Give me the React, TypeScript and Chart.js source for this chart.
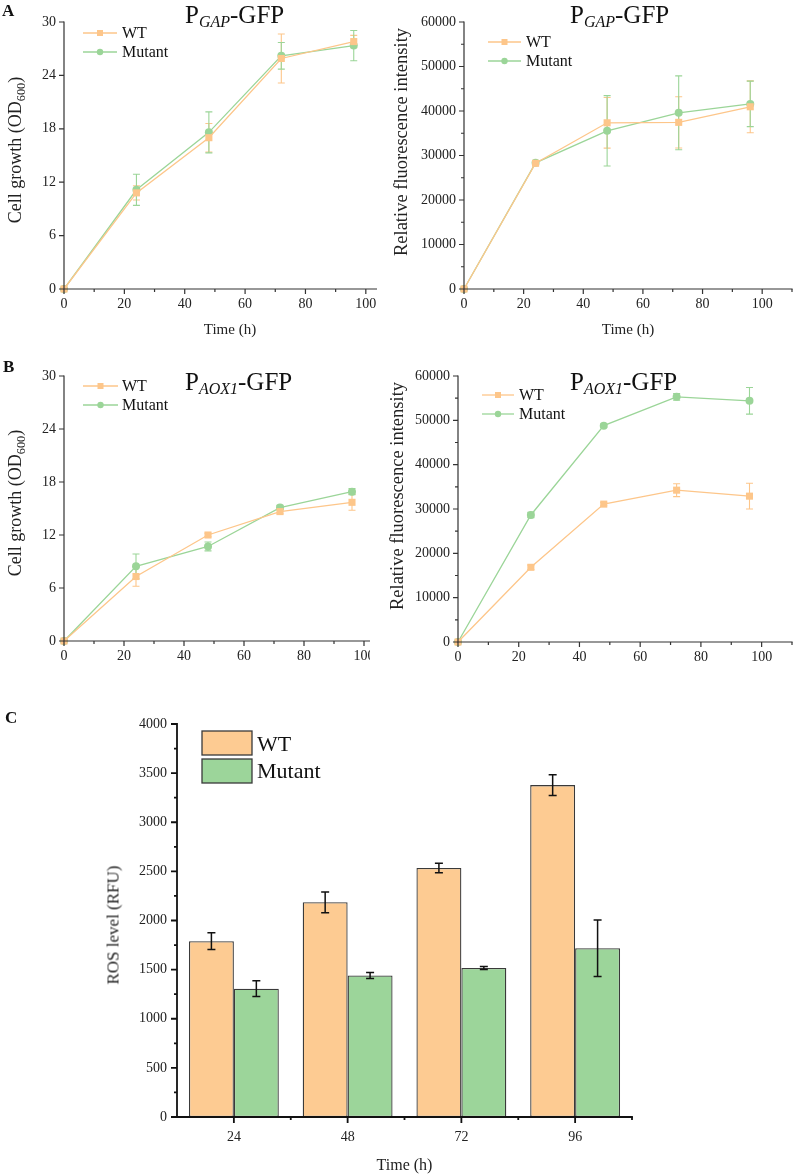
import React, { useEffect, useRef } from 'react';
import { Chart, registerables } from 'chart.js';

Chart.register(...registerables);

const SERIF = "'Liberation Serif', 'Times New Roman', serif";

// ---------------- data ----------------
const hours = [0, 24, 48, 72, 96];
const seriesNames = ['WT', 'Mutant'];

const gapOdWt = [0, 10.8, 17.0, 25.9, 27.8];
const gapOdWtErr = [0, 0.8, 1.6, 2.75, 0.7];
const gapOdMut = [0, 11.15, 17.6, 26.2, 27.35];
const gapOdMutErr = [0, 1.75, 2.3, 1.5, 1.7];

const gapFlWt = [0, 28250, 37350, 37450, 40950];
const gapFlWtErr = [0, 500, 5700, 5750, 5830];
const gapFlMut = [0, 28350, 35550, 39600, 41600];
const gapFlMutErr = [0, 400, 7900, 8300, 5120];

const aoxOdWt = [0, 7.3, 12.0, 14.65, 15.7];
const aoxOdWtErr = [0, 1.1, 0.2, 0.25, 0.9];
const aoxOdMut = [0, 8.45, 10.7, 15.1, 16.9];
const aoxOdMutErr = [0, 1.4, 0.5, 0.25, 0.35];

const aoxFlWt = [0, 16850, 31100, 34250, 32900];
const aoxFlWtErr = [0, 500, 350, 1450, 2900];
const aoxFlMut = [0, 28650, 48800, 55300, 54400];
const aoxFlMutErr = [0, 600, 350, 750, 3000];

const rosTimes = ['24', '48', '72', '96'];
const rosWt = [1790, 2185, 2535, 3378];
const rosWtErr = [85, 105, 48, 105];
const rosMut = [1306, 1440, 1517, 1717];
const rosMutErr = [80, 30, 15, 287];

const timeTicks = [0, 20, 40, 60, 80, 100];
const timeMinor = [10, 30, 50, 70, 90, 110];
const odTicks = [0, 6, 12, 18, 24, 30];
const flTicks = [0, 10000, 20000, 30000, 40000, 50000, 60000];
const flMinor = [5000, 15000, 25000, 35000, 45000, 55000];
const rosTicks = [0, 500, 1000, 1500, 2000, 2500, 3000, 3500, 4000];
const rosMinor = [250, 750, 1250, 1750, 2250, 2750, 3250, 3750];
const rosCatMinor = [0.5, 1.5, 2.5, 3.5];

// ---------------- styles ----------------
const WT_LINE = '#FDC68A';
const MUT_LINE = '#9BD598';
const WT_BAR = '#FDCB92';
const MUT_BAR = '#9CD59A';

// ---------------- plugin ----------------
function drawErrors(chart: any) {
  const ctx = chart.ctx;
  const ys = chart.scales.y;
  chart.data.datasets.forEach((ds: any, di: number) => {
    const errs = ds.errors;
    if (!errs) return;
    const meta = chart.getDatasetMeta(di);
    ctx.save();
    ctx.strokeStyle = ds.errorColor;
    ctx.lineWidth = ds.errorWidth;
    meta.data.forEach((el: any, i: number) => {
      const e = errs[i];
      if (!e) return;
      const parsed = meta.controller.getParsed(i);
      const v = parsed.y;
      const x = el.x;
      const y1 = ys.getPixelForValue(v + e);
      const y2 = ys.getPixelForValue(v - e);
      const c = ds.errorCap;
      ctx.beginPath();
      ctx.moveTo(x, y1);
      ctx.lineTo(x, y2);
      ctx.moveTo(x - c, y1);
      ctx.lineTo(x + c, y1);
      ctx.moveTo(x - c, y2);
      ctx.lineTo(x + c, y2);
      ctx.stroke();
    });
    ctx.restore();
  });
}

function drawAxes(chart: any, ax: any) {
  const ctx = chart.ctx;
  const { left, right, top, bottom } = chart.chartArea;
  const xs = chart.scales.x;
  const ys = chart.scales.y;
  ctx.save();
  ctx.strokeStyle = ax.color;
  ctx.lineWidth = ax.width;
  ctx.lineCap = 'square';
  ctx.beginPath();
  ctx.moveTo(left, top);
  ctx.lineTo(left, bottom);
  ctx.lineTo(right, bottom);
  ctx.stroke();
  ctx.lineCap = 'butt';
  ctx.beginPath();
  (ax.xMajor || []).forEach((v: number) => {
    const p = xs.getPixelForValue(v);
    ctx.moveTo(p, bottom);
    ctx.lineTo(p, bottom + ax.majorLen);
  });
  (ax.xMinor || []).forEach((v: number) => {
    const p = xs.getPixelForValue(v);
    ctx.moveTo(p, bottom);
    ctx.lineTo(p, bottom + ax.minorLen);
  });
  (ax.yMajor || []).forEach((v: number) => {
    const p = ys.getPixelForValue(v);
    ctx.moveTo(left, p);
    ctx.lineTo(left - ax.majorLen, p);
  });
  (ax.yMinor || []).forEach((v: number) => {
    const p = ys.getPixelForValue(v);
    ctx.moveTo(left, p);
    ctx.lineTo(left - ax.minorLen, p);
  });
  ctx.stroke();
  ctx.restore();
}

function drawLegend(chart: any, lg: any) {
  if (!lg) return;
  const ctx = chart.ctx;
  ctx.save();
  lg.items.forEach((it: any) => {
    if (it.kind === 'line') {
      ctx.strokeStyle = it.color;
      ctx.lineWidth = 1.3;
      ctx.beginPath();
      ctx.moveTo(it.x1, it.y);
      ctx.lineTo(it.x2, it.y);
      ctx.stroke();
      const cx = (it.x1 + it.x2) / 2;
      ctx.fillStyle = it.color;
      if (it.marker === 'rect') {
        ctx.fillRect(cx - 3, it.y - 3, 6, 6);
      } else {
        ctx.beginPath();
        ctx.arc(cx, it.y, 3.2, 0, Math.PI * 2);
        ctx.fill();
      }
      ctx.fillStyle = '#111';
      ctx.font = `${lg.size}px ${SERIF}`;
      ctx.textBaseline = 'middle';
      ctx.textAlign = 'left';
      ctx.fillText(it.label, it.tx, it.y + 1);
    } else {
      ctx.fillStyle = it.color;
      ctx.fillRect(it.x, it.y, it.w, it.h);
      ctx.strokeStyle = '#3a3a3a';
      ctx.lineWidth = 1.3;
      ctx.strokeRect(it.x, it.y, it.w, it.h);
      ctx.fillStyle = '#111';
      ctx.font = `${lg.size}px ${SERIF}`;
      ctx.textBaseline = 'alphabetic';
      ctx.textAlign = 'left';
      ctx.fillText(it.label, it.tx, it.ty);
    }
  });
  ctx.restore();
}

const figurePlugin = {
  id: 'figure',
  beforeDatasetsDraw(chart: any, _a: any, opts: any) {
    if (opts.errorLayer === 'before') drawErrors(chart);
  },
  afterDatasetsDraw(chart: any, _a: any, opts: any) {
    if (opts.errorLayer === 'after') drawErrors(chart);
  },
  afterDraw(chart: any, _a: any, opts: any) {
    drawAxes(chart, opts.axis);
    drawLegend(chart, opts.legend);
  },
};

// ---------------- configs ----------------
function lineDataset(label: string, vals: number[], errs: number[], color: string, style: string, radius: number) {
  return {
    label,
    data: hours.map((h, i) => ({ x: h, y: vals[i] })),
    errors: errs,
    errorColor: color,
    errorWidth: 1.1,
    errorCap: 3.5,
    borderColor: color,
    backgroundColor: color,
    borderWidth: 1.3,
    pointStyle: style,
    pointRadius: radius,
    pointHoverRadius: radius,
    pointBorderWidth: 0,
    pointBackgroundColor: color,
    tension: 0,
    clip: false,
  };
}

function makeLineConfig(o: any) {
  return {
    type: 'line',
    data: {
      datasets: [
        lineDataset(seriesNames[0], o.wt, o.wtErr, WT_LINE, 'rect', 5),
        lineDataset(seriesNames[1], o.mut, o.mutErr, MUT_LINE, 'circle', 4),
      ],
    },
    options: {
      responsive: false,
      animation: false,
      events: [],
      layout: { padding: o.padding },
      plugins: {
        legend: { display: false },
        tooltip: { enabled: false },
        figure: {
          errorLayer: 'before',
          axis: {
            color: '#333',
            width: 1.2,
            majorLen: 5,
            minorLen: 3,
            xMajor: timeTicks,
            xMinor: timeMinor,
            yMajor: o.yTicks,
            yMinor: o.yMinor,
          },
          legend: {
            size: 16,
            items: [
              { kind: 'line', label: seriesNames[0], color: WT_LINE, marker: 'rect', x1: o.lg.x1, x2: o.lg.x2, tx: o.lg.tx, y: o.lg.y1 },
              { kind: 'line', label: seriesNames[1], color: MUT_LINE, marker: 'circle', x1: o.lg.x1, x2: o.lg.x2, tx: o.lg.tx, y: o.lg.y2 },
            ],
          },
        },
      },
      scales: {
        x: {
          type: 'linear',
          min: 0,
          max: 110,
          afterBuildTicks: (s: any) => {
            s.ticks = timeTicks.map((v) => ({ value: v }));
          },
          ticks: {
            padding: 7,
            font: { family: SERIF, size: 14 },
            color: '#222',
            maxRotation: 0,
            autoSkip: false,
            callback: (v: any) => String(v),
          },
          grid: { display: false, drawTicks: false },
          border: { display: false },
          title: {
            display: o.xTitle,
            text: 'Time (h)',
            font: { family: SERIF, size: 15 },
            color: '#222',
            padding: { top: 0, bottom: 1 },
          },
          afterFit: (s: any) => {
            s.height = o.xHeight;
          },
        },
        y: {
          type: 'linear',
          min: 0,
          max: o.yMax,
          afterBuildTicks: (s: any) => {
            s.ticks = o.yTicks.map((v: number) => ({ value: v }));
          },
          ticks: {
            padding: 8,
            font: { family: SERIF, size: 14 },
            color: '#222',
            autoSkip: false,
            callback: (v: any) => String(v),
          },
          grid: { display: false, drawTicks: false },
          border: { display: false },
          afterFit: (s: any) => {
            s.width = o.yWidth;
          },
        },
      },
    },
    plugins: [figurePlugin],
  };
}

function makeBarConfig() {
  const common = {
    borderColor: '#3a3a3a',
    borderWidth: 1.3,
    borderSkipped: false,
    categoryPercentage: 0.79,
    barPercentage: 1,
    errorColor: '#111',
    errorWidth: 1.5,
    errorCap: 4,
  };
  return {
    type: 'bar',
    data: {
      labels: rosTimes,
      datasets: [
        { ...common, label: seriesNames[0], data: rosWt, errors: rosWtErr, backgroundColor: WT_BAR },
        { ...common, label: seriesNames[1], data: rosMut, errors: rosMutErr, backgroundColor: MUT_BAR },
      ],
    },
    options: {
      responsive: false,
      animation: false,
      events: [],
      layout: { padding: { left: 0, top: 724, right: 165, bottom: 0 } },
      plugins: {
        legend: { display: false },
        tooltip: { enabled: false },
        figure: {
          errorLayer: 'after',
          axis: {
            color: '#111',
            width: 1.8,
            majorLen: 6,
            minorLen: 3,
            xMajor: [0, 1, 2, 3],
            xMinor: rosCatMinor,
            yMajor: rosTicks,
            yMinor: rosMinor,
          },
          legend: {
            size: 22,
            items: [
              { kind: 'box', label: seriesNames[0], color: WT_BAR, x: 202, y: 731, w: 50, h: 24, tx: 257, ty: 751 },
              { kind: 'box', label: seriesNames[1], color: MUT_BAR, x: 202, y: 759, w: 50, h: 24, tx: 257, ty: 778 },
            ],
          },
        },
      },
      scales: {
        x: {
          type: 'category',
          offset: true,
          ticks: { padding: 12, font: { family: SERIF, size: 14 }, color: '#222', maxRotation: 0 },
          grid: { display: false, drawTicks: false },
          border: { display: false },
          title: {
            display: true,
            text: 'Time (h)',
            font: { family: SERIF, size: 16 },
            color: '#222',
            padding: { top: 0, bottom: 0 },
          },
          afterFit: (s: any) => {
            s.height = 58;
          },
        },
        y: {
          type: 'linear',
          min: 0,
          max: 4000,
          afterBuildTicks: (s: any) => {
            s.ticks = rosTicks.map((v) => ({ value: v }));
          },
          ticks: {
            padding: 10,
            font: { family: SERIF, size: 14 },
            color: '#222',
            autoSkip: false,
            callback: (v: any) => String(v),
          },
          grid: { display: false, drawTicks: false },
          border: { display: false },
          afterFit: (s: any) => {
            s.width = 177;
          },
        },
      },
    },
    plugins: [figurePlugin],
  };
}

// ---------------- components ----------------
function ChartLayer({ make, clipWidth }: { make: () => any; clipWidth?: number }) {
  const ref = useRef<HTMLCanvasElement>(null);
  useEffect(() => {
    const chart = new Chart(ref.current as HTMLCanvasElement, make());
    return () => chart.destroy();
  }, []);
  return (
    <div style={{ position: 'absolute', left: 0, top: 0, width: clipWidth ?? 797, height: 1175, overflow: 'hidden' }}>
      <canvas ref={ref} width={797} height={1175} style={{ display: 'block', width: 797, height: 1175 }} />
    </div>
  );
}

function PanelTitle({ left, top, sub }: { left: number; top: number; sub: string }) {
  return (
    <div
      style={{
        position: 'absolute',
        left,
        top,
        fontFamily: SERIF,
        fontSize: 25,
        lineHeight: '25px',
        whiteSpace: 'nowrap',
        color: '#111',
      }}
    >
      P
      <span style={{ fontSize: 16, fontStyle: 'italic', position: 'relative', top: 4 }}>{sub}</span>
      -GFP
    </div>
  );
}

function YTitle({ cx, cy, size, children }: { cx: number; cy: number; size: number; children: any }) {
  return (
    <div
      style={{
        position: 'absolute',
        left: cx,
        top: cy,
        transform: 'translate(-50%, -50%) rotate(-90deg)',
        fontFamily: SERIF,
        fontSize: size,
        lineHeight: 1,
        whiteSpace: 'nowrap',
        color: '#222',
      }}
    >
      {children}
    </div>
  );
}

function Letter({ left, top, text }: { left: number; top: number; text: string }) {
  return (
    <div
      style={{
        position: 'absolute',
        left,
        top,
        fontFamily: SERIF,
        fontWeight: 'bold',
        fontSize: 17,
        lineHeight: '17px',
        color: '#111',
      }}
    >
      {text}
    </div>
  );
}

const OD = (
  <span>
    Cell growth (OD<span style={{ fontSize: '0.68em', position: 'relative', top: '0.3em' }}>600</span>)
  </span>
);

export default function App() {
  return (
    <div style={{ position: 'absolute', left: 0, top: 0, width: 797, height: 1175, background: '#fff', overflow: 'hidden' }}>
      <ChartLayer
        clipWidth={377}
        make={() =>
          makeLineConfig({
            wt: gapOdWt, wtErr: gapOdWtErr, mut: gapOdMut, mutErr: gapOdMutErr,
            yMax: 30, yTicks: odTicks, yMinor: [],
            padding: { left: 0, top: 22, right: 401, bottom: 835 },
            yWidth: 64, xHeight: 51, xTitle: true,
            lg: { x1: 83, x2: 117, tx: 122, y1: 33, y2: 52 },
          })
        }
      />
      <ChartLayer
        make={() =>
          makeLineConfig({
            wt: gapFlWt, wtErr: gapFlWtErr, mut: gapFlMut, mutErr: gapFlMutErr,
            yMax: 60000, yTicks: flTicks, yMinor: flMinor,
            padding: { left: 390, top: 22, right: 1, bottom: 835 },
            yWidth: 74, xHeight: 51, xTitle: true,
            lg: { x1: 488, x2: 521, tx: 526, y1: 42, y2: 61 },
          })
        }
      />
      <ChartLayer
        clipWidth={370}
        make={() =>
          makeLineConfig({
            wt: aoxOdWt, wtErr: aoxOdWtErr, mut: aoxOdMut, mutErr: aoxOdMutErr,
            yMax: 30, yTicks: odTicks, yMinor: [],
            padding: { left: 0, top: 376, right: 403, bottom: 504 },
            yWidth: 64, xHeight: 30, xTitle: false,
            lg: { x1: 83, x2: 118, tx: 122, y1: 386, y2: 405 },
          })
        }
      />
      <ChartLayer
        make={() =>
          makeLineConfig({
            wt: aoxFlWt, wtErr: aoxFlWtErr, mut: aoxFlMut, mutErr: aoxFlMutErr,
            yMax: 60000, yTicks: flTicks, yMinor: flMinor,
            padding: { left: 390, top: 376, right: 5, bottom: 503 },
            yWidth: 68, xHeight: 30, xTitle: false,
            lg: { x1: 482, x2: 514, tx: 519, y1: 395, y2: 414 },
          })
        }
      />
      <ChartLayer make={makeBarConfig} />

      <Letter left={2} top={2} text="A" />
      <Letter left={3} top={358} text="B" />
      <Letter left={5} top={709} text="C" />

      <PanelTitle left={185} top={2} sub="GAP" />
      <PanelTitle left={570} top={2} sub="GAP" />
      <PanelTitle left={185} top={369} sub="AOX1" />
      <PanelTitle left={570} top={369} sub="AOX1" />

      <YTitle cx={15} cy={150} size={18}>{OD}</YTitle>
      <YTitle cx={401} cy={142} size={18.5}>Relative fluorescence intensity</YTitle>
      <YTitle cx={15} cy={503} size={18}>{OD}</YTitle>
      <YTitle cx={397} cy={496} size={18.5}>Relative fluorescence intensity</YTitle>
      <YTitle cx={113} cy={925} size={17}>ROS level (RFU)</YTitle>
    </div>
  );
}
